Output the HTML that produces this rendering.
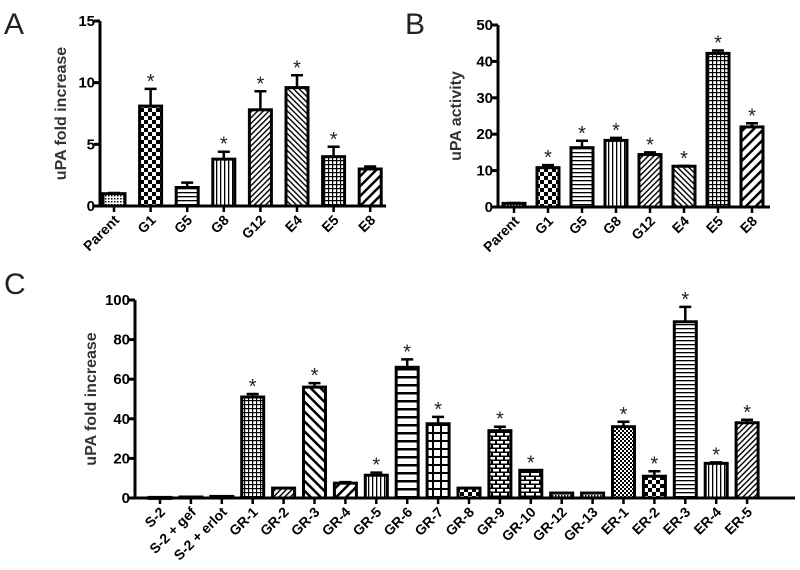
<!DOCTYPE html>
<html><head><meta charset="utf-8"><style>
body{margin:0;background:#fff;}
svg{display:block;font-family:"Liberation Sans",Arial,sans-serif;}
.tk{font-size:14px;font-weight:bold;}
</style></head><body>
<svg id="fig" width="800" height="570" viewBox="0 0 800 570">
<defs>
<pattern id="pDots" width="3" height="3" patternUnits="userSpaceOnUse"><rect width="3" height="3" fill="#fff"/><rect width="1.5" height="1.5" fill="#000"/></pattern>
<pattern id="pCheck" width="8" height="8" patternUnits="userSpaceOnUse"><rect width="8" height="8" fill="#fff"/><rect width="4" height="4" fill="#000"/><rect x="4" y="4" width="4" height="4" fill="#000"/></pattern>
<pattern id="pCheckS" width="4" height="4" patternUnits="userSpaceOnUse"><rect width="4" height="4" fill="#fff"/><rect width="2" height="2" fill="#000"/><rect x="2" y="2" width="2" height="2" fill="#000"/></pattern>
<pattern id="pH" width="4" height="4" patternUnits="userSpaceOnUse"><rect width="4" height="4" fill="#fff"/><rect y="0" width="4" height="1.3" fill="#000"/></pattern>
<pattern id="pHw" width="8" height="8" patternUnits="userSpaceOnUse"><rect width="8" height="8" fill="#fff"/><rect y="0" width="8" height="2.5" fill="#000"/></pattern>
<pattern id="pV" width="4" height="4" patternUnits="userSpaceOnUse"><rect width="4" height="4" fill="#fff"/><rect width="1.3" height="4" fill="#000"/></pattern>
<pattern id="pD1" width="4" height="4" patternUnits="userSpaceOnUse" patternTransform="rotate(45)"><rect width="4" height="4" fill="#fff"/><rect width="1.4" height="4" fill="#000"/></pattern>
<pattern id="pD2" width="4" height="4" patternUnits="userSpaceOnUse" patternTransform="rotate(-45)"><rect width="4" height="4" fill="#fff"/><rect width="1.4" height="4" fill="#000"/></pattern>
<pattern id="pD1w" width="7" height="7" patternUnits="userSpaceOnUse" patternTransform="rotate(45)"><rect width="7" height="7" fill="#fff"/><rect width="2.5" height="7" fill="#000"/></pattern>
<pattern id="pD2w" width="7" height="7" patternUnits="userSpaceOnUse" patternTransform="rotate(-45)"><rect width="7" height="7" fill="#fff"/><rect width="2.5" height="7" fill="#000"/></pattern>
<pattern id="pGrid" width="4" height="4" patternUnits="userSpaceOnUse"><rect width="4" height="4" fill="#fff"/><rect width="4" height="1.2" fill="#000"/><rect width="1.2" height="4" fill="#000"/></pattern>
<pattern id="pGridW" width="8" height="8" patternUnits="userSpaceOnUse"><rect width="8" height="8" fill="#fff"/><rect width="8" height="2" fill="#000"/><rect width="2" height="8" fill="#000"/></pattern>
<pattern id="pBrick" width="8" height="8" patternUnits="userSpaceOnUse"><rect width="8" height="8" fill="#000"/><rect x="1" y="1" width="6" height="2.5" fill="#fff"/><rect x="-3" y="5" width="6" height="2.5" fill="#fff"/><rect x="5" y="5" width="6" height="2.5" fill="#fff"/></pattern>
<pattern id="pBrickW" width="10" height="8" patternUnits="userSpaceOnUse"><rect width="10" height="8" fill="#000"/><rect x="1" y="1" width="8" height="2.5" fill="#fff"/><rect x="-4" y="5" width="8" height="2.5" fill="#fff"/><rect x="6" y="5" width="8" height="2.5" fill="#fff"/></pattern>
</defs>
<text x="4" y="34" font-size="30" fill="#222">A</text>
<text x="405" y="34" font-size="30" fill="#222">B</text>
<text x="4" y="294" font-size="30" fill="#222">C</text>
</svg>
<script>
const catsA=["Parent","G1","G5","G8","G12","E4","E5","E8"];
const valsA=[1,8.1,1.5,3.8,7.8,9.6,4.0,3.0];
const errA=[1.05,9.5,1.9,4.4,9.3,10.6,4.8,3.2];
const starA=[0,1,0,1,1,1,1,0];
const patA=["pDots","pCheck","pH","pV","pD1","pD2","pGrid","pD1w"];
const ticksA=[0,5,10,15];

const catsB=["Parent","G1","G5","G8","G12","E4","E5","E8"];
const valsB=[1,10.8,16.3,18.3,14.4,11.2,42.2,22];
const errB=[1.1,11.5,18.2,19,15,11.3,43,23];
const starB=[0,1,1,1,1,1,1,1];
const patB=["pDots","pCheck","pH","pV","pD1","pD2","pGrid","pD1w"];
const ticksB=[0,10,20,30,40,50];

const catsC=["S-2","S-2 + gef","S-2 + erlot","GR-1","GR-2","GR-3","GR-4","GR-5","GR-6","GR-7","GR-8","GR-9","GR-10","GR-12","GR-13","ER-1","ER-2","ER-3","ER-4","ER-5"];
const valsC=[0.3,0.5,0.8,51,5,56,7.5,11.5,66,37.5,5,34,14,2.5,2.5,36,11,89,17.5,38];
const errC=[0.3,0.5,0.8,52.5,5,58,8,12.8,70,41,5,36,14,2.5,2.5,38.5,13.5,96.5,18,39.5];
const starC=[0,0,0,1,0,1,0,1,1,1,0,1,1,0,0,1,1,1,1,1];
const patC=["pDots","pDots","pDots","pGrid","pD1","pD2w","pD1w","pV","pHw","pGridW","pCheck","pBrick","pBrickW","pDots","pDots","pCheckS","pCheck","pH","pV","pD1"];
const ticksC=[0,20,40,60,80,100];

const NS="http://www.w3.org/2000/svg";
const svg=document.getElementById("fig");
function mk(tag,attrs,parent){const e=document.createElementNS(NS,tag);for(const k in attrs)e.setAttribute(k,attrs[k]);(parent||svg).appendChild(e);return e;}

function panel(o){
  const g=mk("g",{});
  
  
  const ymax=o.ticks[o.ticks.length-1];
  const y=v=>o.y0-(v/ymax)*(o.y0-o.yTop);
  const x=i=>o.x0c+i*o.pitch;
  const bw=o.bw;
  o.cats.forEach((c,i)=>{
    const cx=x(i),top=y(o.vals[i]);
    const eb=mk("path",{d:`M${cx} ${top}V${y(o.errs[i])}M${cx-6} ${y(o.errs[i])}H${cx+6}`,stroke:"#000","stroke-width":2.5,fill:"none"},g);
    
    
    const r=mk("rect",{x:cx-bw/2,y:top,width:bw,height:Math.max(o.y0-top,1),fill:"url(#"+o.pats[i]+")",stroke:"#000","stroke-width":3},g);
    
    
    if(o.stars[i]){
      const s=mk("text",{x:cx,y:y(o.errs[i])-1,"text-anchor":"middle","font-size":20,fill:"#222"},g);
      s.textContent="*";
      
      
    }
    mk("line",{x1:cx,x2:cx,y1:o.y0,y2:o.y0+6,stroke:"#000","stroke-width":2.5},g);
    const t=mk("text",{class:"tk","text-anchor":"end",transform:`translate(${cx+6},${o.y0+15}) rotate(-45)`},g);
    t.textContent=c;
    
    
  });
  const ax=mk("path",{d:`M${o.xAxis} ${o.yTop}V${o.y0}H${o.xEnd}`,stroke:"#000","stroke-width":3,fill:"none"},g);
  
  
  o.ticks.forEach(v=>{
    mk("line",{x1:o.xAxis-6,x2:o.xAxis,y1:y(v),y2:y(v),stroke:"#000","stroke-width":3},g);
    const t=mk("text",{class:"tk","font-size":15,"text-anchor":"end",x:o.xAxis-5,y:y(v)+5},g);
    t.setAttribute("style","font-size:15px");
    t.textContent=v;
    
    
  });
  const yl=mk("text",{"font-size":16,"font-weight":"bold","text-anchor":"middle",fill:"#333",transform:`translate(${o.ylx},${(o.y0+o.yTop)/2}) rotate(-90)`},g);
  yl.textContent=o.ylabel;
  
  
}
panel({name:"panel-a-chart",cats:catsA,vals:valsA,errs:errA,stars:starA,pats:patA,ticks:ticksA,xAxis:100,xEnd:386,y0:206,yTop:21,x0c:114,pitch:36.6,bw:22,ylx:66,ylabel:"uPA fold increase"});
panel({name:"panel-b-chart",cats:catsB,vals:valsB,errs:errB,stars:starB,pats:patB,ticks:ticksB,xAxis:498,xEnd:770,y0:207,yTop:25,x0c:514,pitch:34,bw:22,ylx:461,ylabel:"uPA activity"});
panel({name:"panel-c-chart",cats:catsC,vals:valsC,errs:errC,stars:starC,pats:patC,ticks:ticksC,xAxis:135,xEnd:795,y0:498,yTop:300,x0c:160,pitch:30.9,bw:22,ylx:96,ylabel:"uPA fold increase"});
</script>
</body></html>
